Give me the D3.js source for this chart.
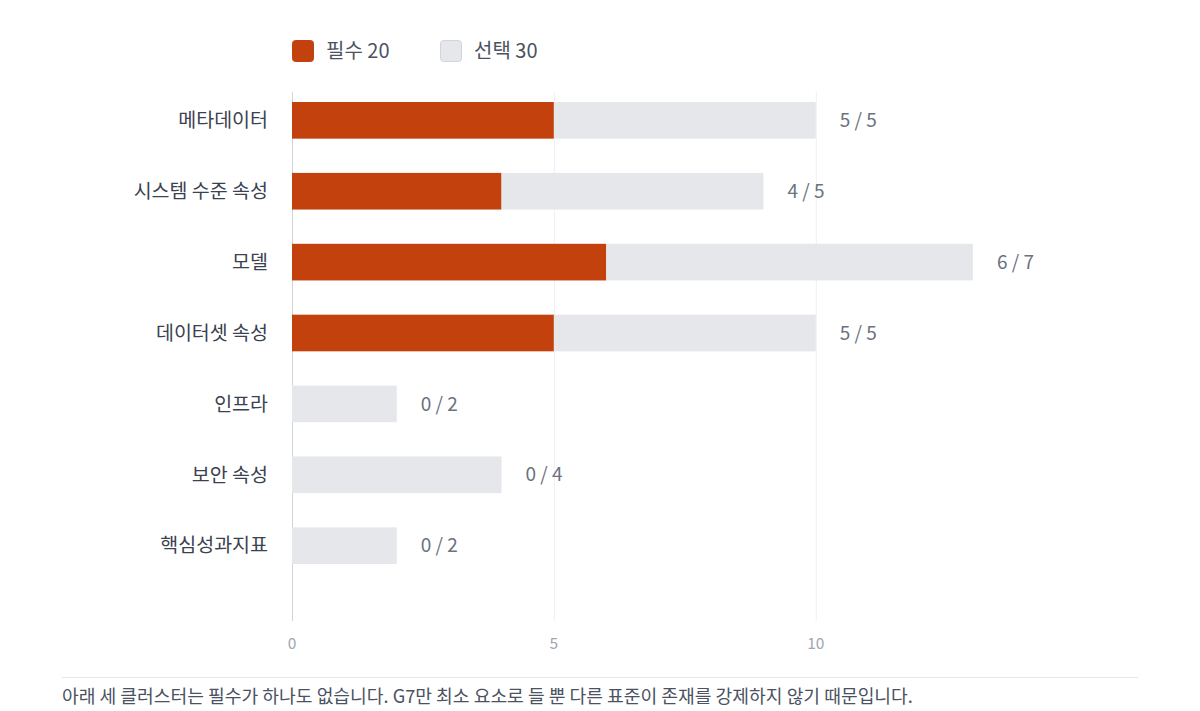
<!DOCTYPE html>
<html>
<head>
<meta charset="utf-8">
<script src="https://cdn.jsdelivr.net/npm/d3@7"></script>
<style>
  body { margin: 0; background: #fff; }
  svg { font-family: "Noto Sans CJK KR", "Noto Sans", sans-serif; }
</style>
</head>
<body>
<svg width="1200" height="711"></svg>
<script>
// chart data
const categories = ["메타데이터", "시스템 수준 속성", "모델", "데이터셋 속성", "인프라", "보안 속성", "핵심성과지표"];
const required = [5, 4, 6, 5, 0, 0, 0];
const optional = [5, 5, 7, 5, 2, 4, 2];
const xTicks = [0, 5, 10];
const legendLabels = ["필수 20", "선택 30"];
const note = "아래 세 클러스터는 필수가 하나도 없습니다. G7만 최소 요소로 들 뿐 다른 표준이 존재를 강제하지 않기 때문입니다.";

const RED = "#c2410c", GRAY = "#e5e7eb";

const svg = d3.select("svg");
const rows = categories.map((c, i) => ({ name: c, req: required[i], opt: optional[i] }));

const x = d3.scaleLinear().domain([0, 14.3]).range([292, 1041]);
const y = d3.scaleBand().domain(categories).range([85, 581]).paddingInner(0.483).paddingOuter(0.24);

// grid
svg.append("g").selectAll("line")
   .data(xTicks)
   .enter()
   .append("line")
   .attr("x1", d => x(d) + 0.5).attr("x2", d => x(d) + 0.5)
   .attr("y1", 92).attr("y2", 621)
   .attr("stroke", d => d === 0 ? "#cfd4dc" : "#eef0f3")
   .attr("stroke-width", 1);

// tick labels
svg.append("g").selectAll("text")
   .data(xTicks)
   .enter()
   .append("text")
   .attr("x", d => x(d))
   .attr("y", 649)
   .attr("text-anchor", "middle")
   .attr("font-size", 15.5)
   .attr("fill", "#a0a6b1")
   .text(d => d);

// bars
const bars = svg.append("g");
bars.selectAll("rect.req")
    .data(rows.filter(d => d.req > 0))
    .enter()
    .append("rect")
    .attr("class", "req")
    .attr("x", x(0))
    .attr("y", d => y(d.name))
    .attr("width", d => x(d.req) - x(0))
    .attr("height", y.bandwidth())
    .attr("fill", RED);

bars.selectAll("rect.opt")
    .data(rows)
    .enter()
    .append("rect")
    .attr("class", "opt")
    .attr("x", d => x(d.req))
    .attr("y", d => y(d.name))
    .attr("width", d => x(d.req + d.opt) - x(d.req))
    .attr("height", y.bandwidth())
    .attr("fill", GRAY);

// category labels
svg.append("g").selectAll("text")
   .data(rows)
   .enter()
   .append("text")
   .attr("x", 268)
   .attr("y", d => y(d.name) + y.bandwidth() / 2)
   .attr("dy", "0.35em")
   .attr("text-anchor", "end")
   .attr("font-size", 19.5)
   .attr("fill", "#3a4150")
   .text(d => d.name);

// value labels
svg.append("g").selectAll("text")
   .data(rows)
   .enter()
   .append("text")
   .attr("x", d => x(d.req + d.opt) + 24)
   .attr("y", d => y(d.name) + y.bandwidth() / 2)
   .attr("dy", "0.35em")
   .attr("font-size", 19)
   .attr("fill", "#6b7280")
   .text(d => `${d.req} / ${d.opt}`);

// legend
const legend = svg.append("g");
const legendX = [292, 440];
legendLabels.forEach((label, i) => {
    legend.append("rect")
          .attr("x", legendX[i] + 0.5).attr("y", 40.5)
          .attr("width", 21).attr("height", 21)
          .attr("rx", 3)
          .attr("fill", i === 0 ? RED : GRAY)
          .attr("stroke", i === 0 ? RED : "#d1d5db");
    legend.append("text")
          .attr("x", legendX[i] + 34).attr("y", 51)
          .attr("dy", "0.35em")
          .attr("font-size", 20)
          .attr("fill", "#4b5262")
          .text(label);
});

// footer
svg.append("line")
   .attr("x1", 62).attr("x2", 1138)
   .attr("y1", 677.5).attr("y2", 677.5)
   .attr("stroke", "#e5e7eb");

svg.append("text")
   .attr("x", 62).attr("y", 697)
   .attr("dy", "0.35em")
   .attr("font-size", 18.2)
   .attr("fill", "#4b5262")
   .text(note);
</script>
</body>
</html>
